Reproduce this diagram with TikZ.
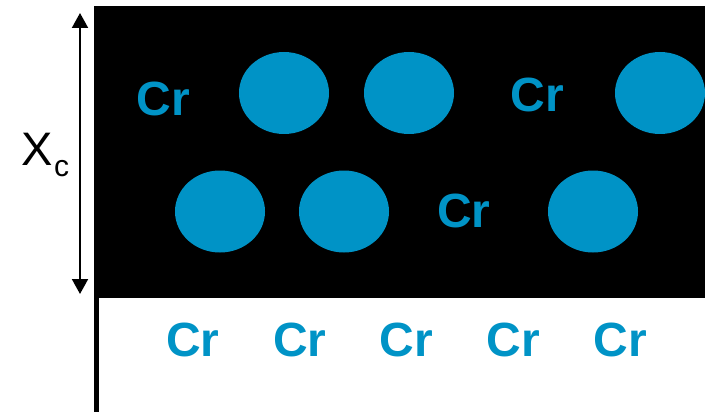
\documentclass[tikz,border=0pt]{standalone}
\usepackage{fontspec}
\setmainfont{Liberation Sans}
\usetikzlibrary{shapes.geometric,arrows.meta}
\definecolor{crblue}{RGB}{0,147,198}
\tikzset{
  atom/.style={ellipse, fill=crblue, draw=none, minimum width=90pt, minimum height=82pt, inner sep=0pt},
  crlabel/.style={text=crblue, font=\fontsize{48}{48}\selectfont\bfseries, anchor=base, inner sep=0pt},
  dimarrow/.style={line width=2pt, {Triangle[length=15pt,width=16pt]}-{Triangle[length=15pt,width=16pt]}}
}
\begin{document}
\begin{tikzpicture}[x=1pt,y=-1pt]
\useasboundingbox (0,0) rectangle (705,412);
% black layer and wall
\fill[black] (94,6) rectangle (705,298);
\fill[black] (94,298) rectangle (99,412);
% dimension arrow
\coordinate (top) at (80,13);
\coordinate (bot) at (80,294);
\draw[dimarrow] (top) -- (bot);
\node[anchor=base west, inner sep=0pt, font=\fontsize{47}{47}\selectfont] (xc) at (21.5,165) {X\kern1pt\raisebox{-11pt}{\fontsize{30}{30}\selectfont c}};
% top row
\node[crlabel] (cr1) at (163.5,116) {Cr};
\node[atom] (a1) at (284,93) {};
\node[atom] (a2) at (409,93) {};
\node[crlabel] (cr2) at (537.5,112) {Cr};
\node[atom] (a3) at (660,93) {};
% middle row
\node[atom] (b1) at (220,211.5) {};
\node[atom] (b2) at (344,211.5) {};
\node[crlabel] (cr3) at (464,227) {Cr};
\node[atom] (b3) at (593,211.5) {};
% bottom row
\node[crlabel] (d1) at (193,356) {Cr};
\node[crlabel] (d2) at (300,356) {Cr};
\node[crlabel] (d3) at (406.5,356) {Cr};
\node[crlabel] (d4) at (513.5,356) {Cr};
\node[crlabel] (d5) at (620.5,356) {Cr};
\end{tikzpicture}
\end{document}
